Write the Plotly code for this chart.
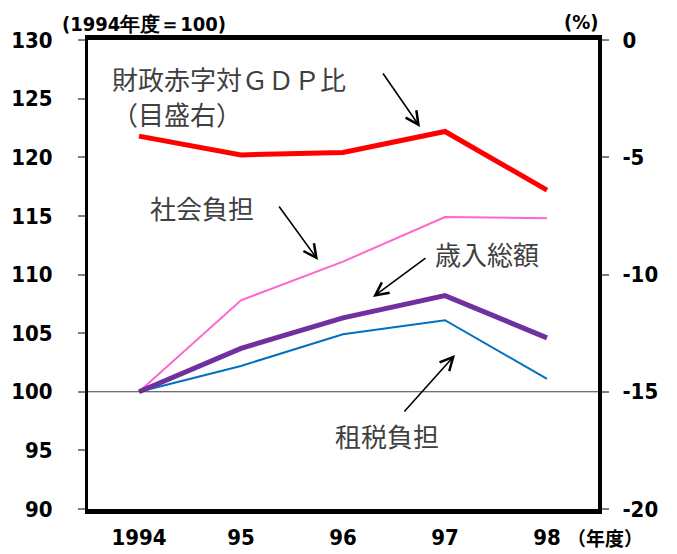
import plotly.graph_objects as go

# ---- data ----
years = ["1994", "95", "96", "97", "98"]
social_burden = [100.0, 107.8, 111.1, 114.9, 114.8]      # 社会負担 (left)
total_revenue = [100.0, 103.7, 106.3, 108.2, 104.6]      # 歳入総額 (left)
tax_burden = [100.0, 102.2, 104.9, 106.1, 101.1]         # 租税負担 (left)
deficit_gdp = [-4.1, -4.9, -4.8, -3.9, -6.4]             # 財政赤字対GDP比 (right, %)

left_ticks = [90, 95, 100, 105, 110, 115, 120, 125, 130]
right_ticks = [0, -5, -10, -15, -20]
right_ticktext = ["0", "-5", "-10", "-15", "-20"]

# ---- layout geometry (pixels) ----
W, H = 677, 554
PL, PR, PT, PB = 88, 598, 40, 509


def px(x):
    return (x - PL) / (PR - PL)


def py(y):
    return (PB - y) / (PB - PT)


NUM_FONT = "DejaVu Sans Condensed, Liberation Sans Narrow, sans-serif"
JP_FONT = "Noto Sans CJK JP, sans-serif"

xi = list(range(len(years)))

fig = go.Figure()
fig.add_trace(go.Scatter(x=xi, y=social_burden, mode="lines",
                         line=dict(color="#FF66CC", width=2), name="社会負担"))
fig.add_trace(go.Scatter(x=xi, y=tax_burden, mode="lines",
                         line=dict(color="#0070C0", width=2), name="租税負担"))
fig.add_trace(go.Scatter(x=xi, y=total_revenue, mode="lines",
                         line=dict(color="#7030A0", width=5), name="歳入総額"))
fig.add_trace(go.Scatter(x=xi, y=deficit_gdp, mode="lines", yaxis="y2",
                         line=dict(color="#FF0000", width=5), name="財政赤字対GDP比"))

tickfont = dict(family=NUM_FONT, size=22, color="black", weight="bold")

fig.update_layout(
    width=W, height=H,
    margin=dict(l=PL, r=W - PR, t=PT, b=H - PB, pad=0, autoexpand=False),
    paper_bgcolor="white", plot_bgcolor="white",
    showlegend=False,
    xaxis=dict(
        tickmode="array", tickvals=xi, ticktext=years,
        range=[-0.5, len(years) - 0.5], automargin=False,
        showgrid=False, zeroline=False,
        showline=True, linecolor="black", linewidth=5, mirror=True,
        ticks="", tickfont=tickfont, ticklabelstandoff=5,
    ),
    yaxis=dict(
        range=[90, 130], tickmode="array", tickvals=left_ticks, automargin=False,
        showgrid=False, zeroline=False,
        showline=True, linecolor="black", linewidth=3,
        ticks="outside", ticklen=7, tickwidth=1.5, tickcolor="#808080",
        tickfont=tickfont, ticklabelstandoff=21,
    ),
    yaxis2=dict(
        range=[-20, 0], overlaying="y", side="right", automargin=False,
        tickmode="array", tickvals=right_ticks, ticktext=right_ticktext,
        showgrid=False, zeroline=False,
        showline=True, linecolor="black", linewidth=4,
        ticks="outside", ticklen=7, tickwidth=1.5, tickcolor="#808080",
        tickfont=tickfont, ticklabelstandoff=9,
    ),
)

# reference line at 100
fig.add_shape(type="line", xref="paper", x0=0, x1=1, yref="y", y0=100, y1=100,
              line=dict(color="#404040", width=1))

ann = []
# axis unit labels
ann.append(dict(text="(1994年度＝100)", x=px(144), y=py(24), xref="paper", yref="paper",
                showarrow=False, xanchor="center", yanchor="middle",
                font=dict(family=NUM_FONT, size=20, color="black", weight="bold")))
ann.append(dict(text="(%)", x=px(581), y=py(22), xref="paper", yref="paper",
                showarrow=False, xanchor="center", yanchor="middle",
                font=dict(family=NUM_FONT, size=20, color="black", weight="bold")))
ann.append(dict(text="（年度）", x=px(605), y=py(537), xref="paper", yref="paper",
                showarrow=False, xanchor="center", yanchor="middle",
                font=dict(family=JP_FONT, size=19, color="black", weight="bold")))

label_font = dict(family=JP_FONT, size=26, color="#404040")
ann.append(dict(text="財政赤字対ＧＤＰ比", x=px(110), y=py(78), xref="paper", yref="paper",
                showarrow=False, xanchor="left", yanchor="middle", font=label_font))
ann.append(dict(text="（目盛右）", x=px(110), y=py(113), xref="paper", yref="paper",
                showarrow=False, xanchor="left", yanchor="middle", font=label_font))
ann.append(dict(text="社会負担", x=px(202), y=py(207), xref="paper", yref="paper",
                showarrow=False, xanchor="center", yanchor="middle", font=label_font))
ann.append(dict(text="歳入総額", x=px(487), y=py(253), xref="paper", yref="paper",
                showarrow=False, xanchor="center", yanchor="middle", font=label_font))
ann.append(dict(text="租税負担", x=px(387), y=py(435), xref="paper", yref="paper",
                showarrow=False, xanchor="center", yanchor="middle", font=label_font))

# arrows: (tail_x, tail_y, head_x, head_y) in pixels
arrows = [(382, 72, 420, 127), (278, 205, 318, 260), (427, 257, 373, 297), (403, 413, 455, 355)]
for tx, ty, hx, hy in arrows:
    ann.append(dict(text="", x=px(hx), y=py(hy), xref="paper", yref="paper",
                    ax=tx - hx, ay=ty - hy, axref="pixel", ayref="pixel",
                    showarrow=True, arrowhead=5, arrowsize=1.6, arrowwidth=1.6,
                    arrowcolor="black", standoff=0, startstandoff=0))

fig.update_layout(annotations=ann)
fig.write_html("out.html", config={"displayModeBar": False},
               post_script="document.body.style.margin='0';document.body.style.padding='0';")
